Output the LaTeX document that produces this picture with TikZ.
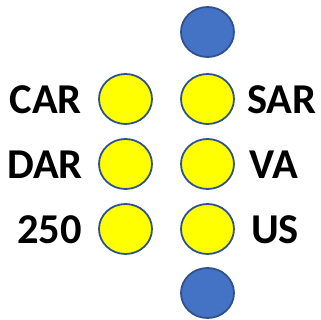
\documentclass[tikz,border=0pt]{standalone}
\usepackage{fontspec}
\setmainfont{Carlito}
\usetikzlibrary{shapes.geometric}
\definecolor{bluefill}{HTML}{4472C4}
\definecolor{rim}{HTML}{2F528F}
\definecolor{yel}{HTML}{FFFF00}
\begin{document}
\begin{tikzpicture}[x=1pt,y=-1pt,
  dot/.style={ellipse, draw=rim, line width=1.8pt, minimum width=53pt, minimum height=50pt, inner sep=0pt},
  ydot/.style={dot, fill=yel},
  bdot/.style={dot, fill=bluefill},
  lab/.style={font=\fontsize{42.5}{42.5}\selectfont\bfseries, inner sep=0pt}]
\useasboundingbox (0,0) rectangle (321,320);
\node[bdot] (t) at (207.5,32) {};
\node[ydot] (l1) at (125.5,99) {};
\node[ydot] (l2) at (125.5,164) {};
\node[ydot] (l3) at (125.5,229) {};
\node[ydot] (r1) at (207.5,99) {};
\node[ydot] (r2) at (207.5,164) {};
\node[ydot] (r3) at (207.5,229) {};
\node[bdot] (b) at (207.5,293) {};
\node[lab, anchor=east] (car) at (82,99.5) {CAR};
\node[lab, anchor=east] (dar) at (83,164.5) {DAR};
\node[lab, anchor=east] (n250) at (82,229.5) {250};
\node[lab, anchor=west] (sar) at (247,99.5) {SAR};
\node[lab, anchor=west] (va) at (249,164.5) {VA};
\node[lab, anchor=west] (us) at (251,229.5) {US};
\end{tikzpicture}
\end{document}
